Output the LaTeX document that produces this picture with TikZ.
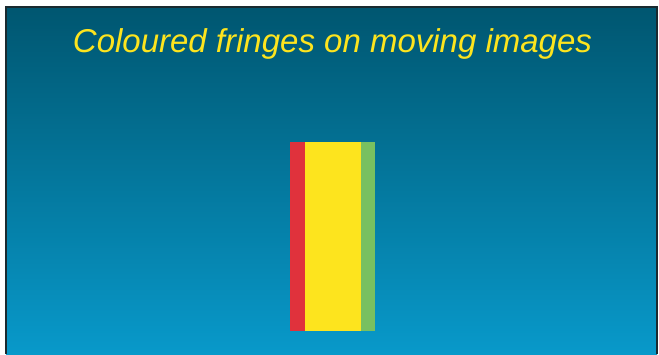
\documentclass[tikz,border=0pt]{standalone}
\usepackage{fontspec}
\setmainfont{Liberation Sans}
\begin{document}
\begin{tikzpicture}[x=1pt,y=-1pt,
  bar/.style={draw=none},
  titletext/.style={text=titleyellow,font=\fontsize{33}{36}\selectfont\itshape,inner sep=0pt,anchor=base}]
\definecolor{bgtop}{HTML}{005670}
\definecolor{bgbot}{HTML}{0899CA}
\definecolor{titleyellow}{HTML}{FDE41E}
\definecolor{fringered}{HTML}{E0323C}
\definecolor{fringeyellow}{HTML}{FDE41E}
\definecolor{fringegreen}{HTML}{78C060}
\definecolor{framecol}{HTML}{1A2A30}
\useasboundingbox (0,0) rectangle (659,354);
\fill[white] (0,0) rectangle (659,354);
\shade[top color=bgtop,bottom color=bgbot] (6,7) rectangle (657,354);
\draw[framecol,line width=1.2pt] (6,354) -- (6,7) -- (657,7) -- (657,354);
\node[titletext] (title) at (332.5,52) {Coloured fringes on moving images};
\fill[fringered] (290,142) rectangle (305,330.5);
\fill[fringeyellow] (305,142) rectangle (360.5,330.5);
\fill[fringegreen] (360.5,142) rectangle (375,330.5);
\end{tikzpicture}
\end{document}
